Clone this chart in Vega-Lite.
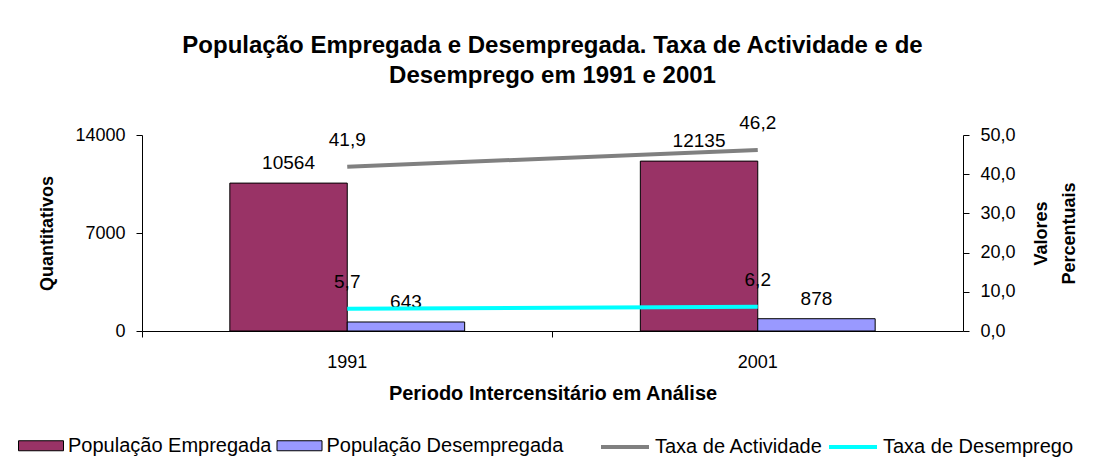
{
  "$schema": "https://vega.github.io/schema/vega-lite/v6.json",
  "autosize": {"type": "none"},
  "width": 821,
  "height": 196,
  "padding": {"left": 142, "top": 135, "right": 131, "bottom": 128},
  "background": "white",
  "config": {
    "font": "Liberation Sans",
    "locale": {"number": {"decimal": ",", "thousands": ".", "grouping": [3], "currency": ["", " €"]}},
    "view": {"stroke": null},
    "axis": {
      "domainColor": "#000", "tickColor": "#000", "labelColor": "#000", "titleColor": "#000",
      "labelFont": "Liberation Sans", "titleFont": "Liberation Sans",
      "labelFontSize": 18, "titleFontSize": 18, "titleFontWeight": "bold",
      "grid": false, "tickSize": 6, "domainWidth": 1, "tickWidth": 1
    },
    "legend": {
      "labelFont": "Liberation Sans", "labelFontSize": 20, "labelColor": "#000",
      "padding": 0, "title": null, "labelLimit": 0
    }
  },
  "title": {
    "text": ["População Empregada e Desempregada. Taxa de Actividade e de", "Desemprego em 1991 e 2001"],
    "fontSize": 24, "fontWeight": "bold", "font": "Liberation Sans", "color": "#000",
    "anchor": "middle", "frame": "group", "lineHeight": 30, "offset": 26
  },
  "datasets": {
    "barras": [
      {"ano": "1991", "grupo": "População Empregada", "valor": 10564},
      {"ano": "1991", "grupo": "População Desempregada", "valor": 643},
      {"ano": "2001", "grupo": "População Empregada", "valor": 12135},
      {"ano": "2001", "grupo": "População Desempregada", "valor": 878}
    ],
    "taxas": [
      {"ano": "1991", "serie": "Taxa de Actividade", "taxa": 41.9},
      {"ano": "1991", "serie": "Taxa de Desemprego", "taxa": 5.7},
      {"ano": "2001", "serie": "Taxa de Actividade", "taxa": 46.2},
      {"ano": "2001", "serie": "Taxa de Desemprego", "taxa": 6.2}
    ]
  },
  "encoding": {
    "x": {
      "field": "ano", "type": "nominal",
      "scale": {"paddingInner": 0, "paddingOuter": 0},
      "axis": {
        "title": "Periodo Intercensitário em Análise", "titleFontSize": 20,
        "bandPosition": 0, "labelAngle": 0,
        "labelPadding": 16, "titlePadding": 12
      }
    }
  },
  "layer": [
    {
      "data": {"name": "barras"},
      "encoding": {
        "y": {
          "field": "valor", "type": "quantitative",
          "scale": {"domain": [0, 14000], "nice": false},
          "axis": {
            "orient": "left", "title": "Quantitativos", "values": [0, 7000, 14000],
            "format": "d", "labelPadding": 11, "titlePadding": 18
          }
        },
        "xOffset": {
          "field": "grupo", "type": "nominal",
          "scale": {"domain": ["População Empregada", "População Desempregada"], "paddingInner": 0, "paddingOuter": 0.748}
        }
      },
      "layer": [
        {
          "mark": {"type": "bar", "stroke": "#000", "strokeWidth": 1},
          "encoding": {
            "fill": {
              "field": "grupo", "type": "nominal",
              "scale": {"domain": ["População Empregada", "População Desempregada"], "range": ["#993366", "#9999FF"]},
              "legend": {
                "orient": "none", "legendX": -111.5, "legendY": 300, "direction": "horizontal", "columns": 2,
                "symbolType": "M-2.25,-0.5h4.5v1h-4.5z", "symbolSize": 400,
                "symbolStrokeColor": "#000", "symbolStrokeWidth": 1, "symbolOpacity": 1,
                "labelOffset": 16.5, "columnPadding": 3.5
              }
            }
          }
        },
        {
          "mark": {"type": "text", "dy": -14, "baseline": "alphabetic", "fontSize": 19, "color": "#000"},
          "encoding": {"text": {"field": "valor", "type": "quantitative", "format": "d"}}
        }
      ]
    },
    {
      "data": {"name": "taxas"},
      "encoding": {
        "y": {
          "field": "taxa", "type": "quantitative",
          "scale": {"domain": [0, 50], "nice": false},
          "axis": {
            "orient": "right", "title": ["Valores", "Percentuais"], "titleAngle": 270,
            "values": [0, 10, 20, 30, 40, 50], "format": ".1f",
            "labelPadding": 11, "titlePadding": 7, "titleLineHeight": 28
          }
        }
      },
      "layer": [
        {
          "mark": {"type": "line", "strokeWidth": 4},
          "encoding": {
            "stroke": {
              "field": "serie", "type": "nominal",
              "scale": {"domain": ["Taxa de Actividade", "Taxa de Desemprego"], "range": ["#808080", "#00FFFF"]},
              "legend": {
                "orient": "none", "legendX": 457, "legendY": 286, "direction": "horizontal", "columns": 2,
                "symbolType": "stroke", "symbolSize": 2304, "symbolStrokeWidth": 4,
                "labelOffset": 4, "columnPadding": -2
              }
            }
          }
        },
        {
          "mark": {"type": "text", "dy": -21, "baseline": "alphabetic", "fontSize": 19, "color": "#000"},
          "encoding": {"text": {"field": "taxa", "type": "quantitative", "format": ".1f"}}
        }
      ]
    }
  ],
  "resolve": {"scale": {"y": "independent"}}
}
